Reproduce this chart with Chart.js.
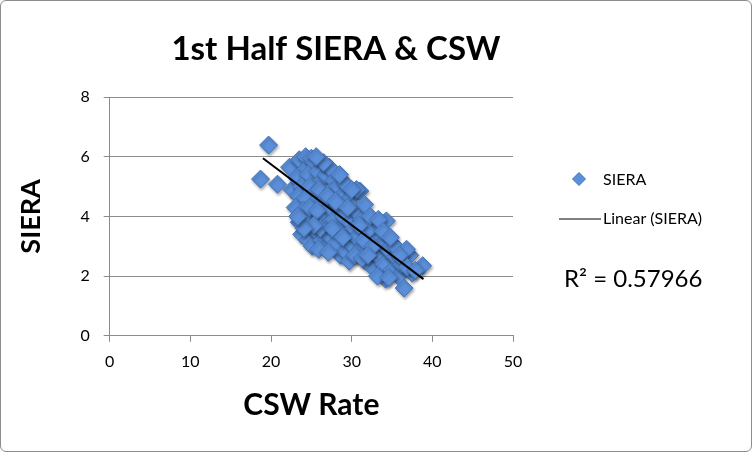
<!DOCTYPE html>
<html>
<head>
<meta charset="utf-8">
<script src="https://cdn.jsdelivr.net/npm/chart.js@4"></script>
<style>
  html, body { margin: 0; padding: 0; background: #fff; }
  #wrap {
    position: absolute; left: 0; top: 0;
    width: 752px; height: 452px;
    box-sizing: border-box;
    border: 1px solid #8c8c8c; border-radius: 6px;
  }
  #myChart { position: absolute; left: 0; top: 0; }
</style>
</head>
<body>
<div id="wrap"><canvas id="myChart" width="750" height="450"></canvas></div>
<script>
// CSW rate (x) and SIERA (y)
const cswRate = [
  18.7, 19.7, 20.8, 22.3, 22.6,
  23.5, 24.3, 25.0, 25.4, 24.0, 23.2, 24.6, 25.8, 26.3, 23.8, 24.8, 25.5, 23.4, 24.2, 26.0,
  26.8, 27.2, 27.8, 27.5, 25.2, 23.0, 24.0, 26.5, 28.3, 28.8, 29.2, 29.8, 30.2, 31.0, 30.6,
  23.5, 24.5, 23.8, 24.6, 25.1, 25.6, 25.9, 26.4, 26.9, 27.3, 27.8, 28.2, 28.6, 29.0, 29.4,
  29.8, 30.3, 30.8, 31.3, 31.6, 26.3, 26.8, 27.4, 28.0, 28.6, 29.3, 29.7, 30.2, 30.6, 31.1,
  31.7, 32.2, 32.5, 32.8, 33.1, 32.9, 33.5, 33.8, 34.3, 34.0, 34.5, 34.2, 35.0, 35.4, 35.4,
  35.8, 36.2, 36.5, 37.2, 37.5, 38.8, 36.8, 32.3, 33.3, 31.9,
  24.8, 25.7, 27.0, 28.0, 29.5, 26.1, 27.6, 28.9, 30.9, 31.5, 25.3, 24.1, 23.3, 25.9, 27.1,
  30.0, 28.5, 26.5, 25.6, 32.6, 33.9, 34.8, 35.9, 36.9, 37.9, 30.4, 31.3, 32.0, 33.2, 34.6
];
const siera = [
  5.25, 6.39, 5.08, 5.65, 4.9,
  5.9, 6.0, 5.95, 5.8, 5.5, 5.3, 5.4, 5.5, 5.2, 5.0, 5.0, 4.8, 4.7, 4.6, 4.9,
  5.4, 5.65, 5.2, 4.85, 4.4, 4.3, 4.2, 4.5, 5.0, 4.7, 5.1, 4.6, 4.3, 4.85, 4.9,
  3.8, 3.9, 3.4, 3.2, 3.0, 3.5, 3.9, 4.1, 3.7, 4.3, 3.9, 4.4, 3.6, 4.0, 3.4,
  3.8, 3.6, 4.1, 3.9, 4.4, 3.2, 3.0, 3.3, 3.1, 2.7, 2.8, 2.5, 3.0, 3.3, 2.9,
  2.5, 3.2, 3.6, 2.8, 3.4, 2.2, 2.6, 3.1, 3.85, 2.4, 2.9, 1.9, 2.2, 2.65, 3.0,
  2.0, 2.4, 1.6, 2.7, 2.1, 2.35, 2.9, 4.0, 3.9, 3.5,
  4.3, 4.2, 4.7, 4.5, 4.3, 3.6, 3.6, 3.3, 3.7, 3.2, 3.7, 3.6, 4.0, 2.9, 2.8,
  4.9, 5.4, 5.8, 6.0, 3.0, 3.5, 3.3, 2.7, 2.3, 2.2, 2.7, 2.6, 2.7, 2.0, 1.95
];
// trendline end points as drawn in the picture
const trendX = [19.0, 38.9];
const trendY = [5.95, 1.9];
const xTicks = [0, 10, 20, 30, 40, 50];
const yTicks = [0, 2, 4, 6, 8];
const chartTitle = '1st Half SIERA & CSW';
const rSquared = 'R² = 0.57966';

const points = cswRate.map((x, i) => ({ x: x, y: siera[i] }));
const trend = trendX.map((x, i) => ({ x: x, y: trendY[i] }));

const fontFam = 'Lato, "Open Sans", sans-serif';
const fill = '#5b8fd9';
const edge = '#4373b8';

// soft shadow under the diamonds
const shadowPlugin = {
  id: 'shadow',
  beforeDatasetDraw(chart, args) {
    if (args.index !== 0) return;
    const c = chart.ctx;
    c.save();
    c.shadowColor = 'rgba(0,0,0,0.35)';
    c.shadowBlur = 3;
    c.shadowOffsetX = 1;
    c.shadowOffsetY = 2;
  },
  afterDatasetDraw(chart, args) {
    if (args.index !== 0) return;
    chart.ctx.restore();
  }
};

// title, legend on the right and the R² label
const extras = {
  id: 'extras',
  afterDraw(chart) {
    const c = chart.ctx;
    c.save();
    c.fillStyle = '#000';
    c.textBaseline = 'middle';
    c.textAlign = 'center';
    c.font = 'bold 33px ' + fontFam;
    c.fillText(chartTitle, 335, 48);

    // diamond
    const dx = 578, dy = 178, r = 6.5;
    c.beginPath();
    c.moveTo(dx, dy - r); c.lineTo(dx + r, dy); c.lineTo(dx, dy + r); c.lineTo(dx - r, dy);
    c.closePath();
    c.fillStyle = fill; c.fill();
    c.strokeStyle = edge; c.lineWidth = 1; c.stroke();
    c.fillStyle = '#000';
    c.font = '16px ' + fontFam;
    c.textAlign = 'left';
    c.fillText('SIERA', 602, 179);
    // line
    c.beginPath();
    c.moveTo(558, 218); c.lineTo(600, 218);
    c.strokeStyle = '#000'; c.lineWidth = 1.2; c.stroke();
    c.fillText('Linear (SIERA)', 602, 218);
    // R squared
    c.font = '24px ' + fontFam;
    c.fillText(rSquared, 563, 278);
    c.restore();
  }
};

const ctx = document.getElementById('myChart').getContext('2d');
const myChart = new Chart(ctx, {
  type: 'scatter',
  data: {
    datasets: [{
      label: 'SIERA',
      data: points,
      pointStyle: 'rectRot',
      pointRadius: 9,
      pointHoverRadius: 9,
      pointBackgroundColor: fill,
      pointBorderColor: edge,
      pointBorderWidth: 1,
      order: 1
    }, {
      label: 'Linear (SIERA)',
      type: 'line',
      data: trend,
      borderColor: '#000',
      borderWidth: 2,
      pointRadius: 0,
      fill: false,
      order: 0
    }]
  },
  options: {
    responsive: false,
    animation: false,
    layout: { padding: { left: 14, right: 238, top: 96, bottom: 28 } },
    plugins: {
      legend: { display: false },
      tooltip: { enabled: false },
      title: { display: false }
    },
    scales: {
      x: {
        type: 'linear',
        min: 0, max: 50,
        afterBuildTicks(axis) { axis.ticks = xTicks.map(v => ({ value: v })); },
        grid: { drawOnChartArea: false, drawTicks: true, tickLength: 6, color: '#8c8c8c' },
        border: { color: '#8c8c8c', width: 1 },
        ticks: { color: '#000', font: { family: fontFam, size: 16 }, padding: 10 },
        title: {
          display: true, text: 'CSW Rate', color: '#000',
          font: { family: fontFam, size: 30, weight: 'bold' },
          padding: { top: 6, bottom: 0 }
        }
      },
      y: {
        min: 0, max: 8,
        afterBuildTicks(axis) { axis.ticks = yTicks.map(v => ({ value: v })); },
        grid: { color: '#8c8c8c', tickLength: 6, lineWidth: 1 },
        border: { color: '#8c8c8c', width: 1 },
        ticks: { color: '#000', font: { family: fontFam, size: 16 }, padding: 14 },
        title: {
          display: true, text: 'SIERA', color: '#000',
          font: { family: fontFam, size: 27, weight: 'bold' },
          padding: { top: 0, bottom: 19 }
        }
      }
    }
  },
  plugins: [shadowPlugin, extras]
});
</script>
</body>
</html>
